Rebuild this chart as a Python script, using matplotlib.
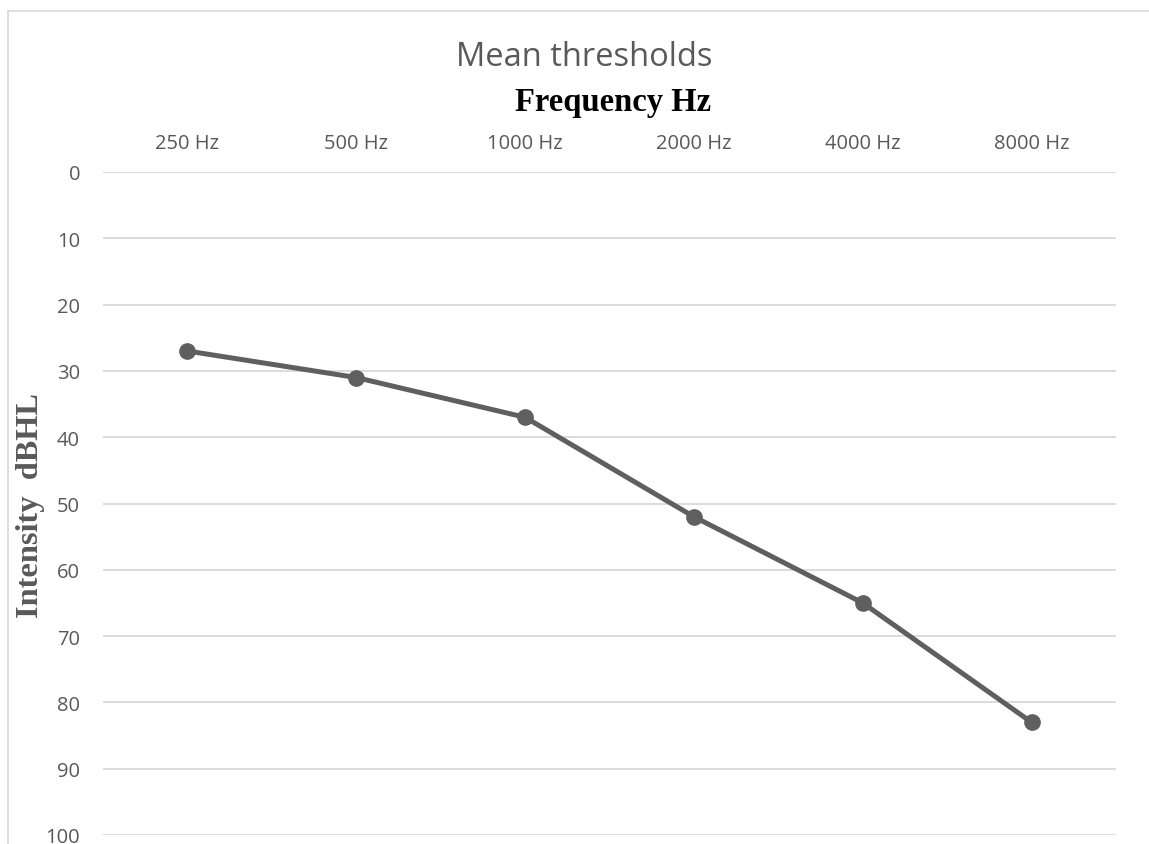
import matplotlib.pyplot as plt
from matplotlib.lines import Line2D

# frequency bands and mean thresholds (dB HL)
frequencies = ['250 Hz', '500 Hz', '1000 Hz', '2000 Hz', '4000 Hz', '8000 Hz']
thresholds = [27, 31, 37, 52, 65, 83]
y_ticks = [0, 10, 20, 30, 40, 50, 60, 70, 80, 90, 100]

W, H = 1149, 845
fig = plt.figure(figsize=(W / 100, H / 100), dpi=100)

# light frame of the chart area (only top/left are visible in the crop)
fx, fy = 7.5 / W, 1 - 11.5 / H
fig.lines.append(Line2D([fx, 1], [fy, fy], transform=fig.transFigure,
                        color='#d9d9d9', linewidth=1.2))
fig.lines.append(Line2D([fx, fx], [0, fy], transform=fig.transFigure,
                        color='#d9d9d9', linewidth=1.2))

ax = fig.add_axes([103 / W, 1 - 836 / H, (1116 - 103) / W, (836 - 173) / H])

x = range(len(frequencies))
ax.plot(x, thresholds, color='#5f5f5f', linewidth=3.6, marker='o', markersize=11,
        solid_capstyle='round', zorder=3, clip_on=False)

ax.set_xlim(-0.5, len(frequencies) - 0.5)
ax.set_ylim(100, 0)
ax.set_yticks(y_ticks)
ax.set_xticks(list(x))
ax.set_xticklabels(frequencies)
ax.xaxis.tick_top()

ax.grid(axis='y', color='#d9d9d9', linewidth=1.3)
ax.set_axisbelow(True)
for s in ax.spines.values():
    s.set_visible(False)

ax.tick_params(axis='both', length=0, labelsize=14.5, colors='#595959')
ax.tick_params(axis='x', pad=14)
ax.tick_params(axis='y', pad=16.5)
for lab in ax.get_xticklabels() + ax.get_yticklabels():
    lab.set_fontfamily('Open Sans')

fig.text(584 / W, 1 - 58 / H, 'Mean thresholds', ha='center', va='center',
         fontsize=23.5, color='#595959', family='Open Sans')
fig.text(613 / W, 1 - 102 / H, 'Frequency Hz', ha='center', va='center',
         fontsize=23.5, fontweight='bold', color='black', family='Liberation Serif')
fig.text(31 / W, 1 - 506 / H, 'Intensity  dBHL', ha='center', va='center', rotation=90,
         fontsize=23.3, fontweight='bold', color='#595959', family='Liberation Serif')

fig.savefig('out.png', dpi=100)
